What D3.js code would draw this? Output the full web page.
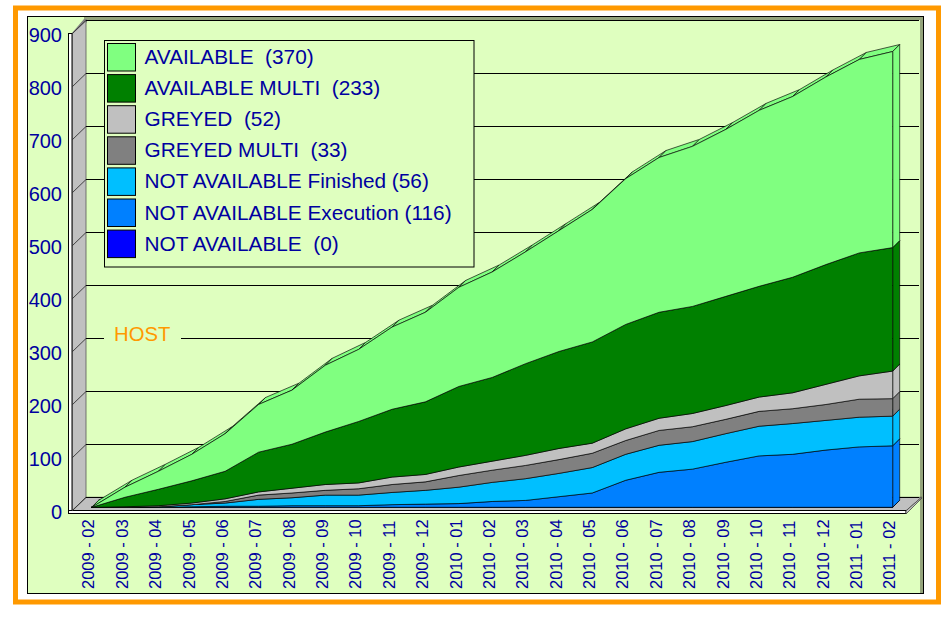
<!DOCTYPE html>
<html><head><meta charset="utf-8">
<script src="https://cdnjs.cloudflare.com/ajax/libs/d3/7.8.5/d3.min.js"></script>
<style>
html,body{margin:0;padding:0;background:#fff}
svg{display:block}
text{font-family:"Liberation Sans",Arial,sans-serif}
</style></head><body>
<svg id="c" width="942" height="617"></svg>
<script>
const months=["2009 - 02","2009 - 03","2009 - 04","2009 - 05","2009 - 06","2009 - 07","2009 - 08","2009 - 09","2009 - 10","2009 - 11","2009 - 12","2010 - 01","2010 - 02","2010 - 03","2010 - 04","2010 - 05","2010 - 06","2010 - 07","2010 - 08","2010 - 09","2010 - 10","2010 - 11","2010 - 12","2011 - 01","2011 - 02"];
const notAvailable=[0,0,0,0,0,0,0,0,0,0,0,0,0,0,0,0,0,0,0,0,0,0,0,0,0];
const notAvailableExecution=[0,0,0,1,2,2,3,3,3,5,6,7,11,13,20,27,51,66,72,85,97,100,108,114,116];
const notAvailableFinished=[0,0,1,4,6,13,15,20,20,23,26,31,36,41,44,48,49,51,52,54,56,58,56,56,56];
const greyedMulti=[0,0,0,0,3,8,9,9,12,15,16,22,23,25,26,27,26,28,28,27,28,28,30,34,33];
const greyed=[0,1,2,3,5,6,9,11,11,14,14,16,17,19,21,19,22,23,25,26,27,30,38,44,52];
const availableMulti=[0,18,31,42,52,75,83,99,116,128,137,152,158,173,183,191,197,200,202,206,209,218,226,232,233];
const available=[0,19,34,50,71,90,102,126,136,155,169,187,199,211,228,250,275,292,302,315,332,341,354,365,370];
const seriesValues=[notAvailable,notAvailableExecution,notAvailableFinished,greyedMulti,greyed,availableMulti,available];
const seriesColors=["#0000ff","#0080ff","#00bfff","#808080","#c0c0c0","#008000","#80ff80"];
const legendLabels=["AVAILABLE  (370)","AVAILABLE MULTI  (233)","GREYED  (52)","GREYED MULTI  (33)","NOT AVAILABLE Finished (56)","NOT AVAILABLE Execution (116)","NOT AVAILABLE  (0)"];
const legendColors=["#80ff80","#008000","#c0c0c0","#808080","#00bfff","#0080ff","#0000ff"];
const yTicks=[0,100,200,300,400,500,600,700,800,900];
const BG="#dfffbf",INK="#0000a0",ORANGE="#ff9900";

const svg=d3.select("#c");
const rect=(x,y,w,h,fill,stroke,sw)=>svg.append("rect").attr("x",x).attr("y",y).attr("width",w).attr("height",h).attr("fill",fill).attr("stroke",stroke||"none").attr("stroke-width",sw||0);
const poly=(g,pts,fill,stroke,sw)=>g.append("polygon").attr("points",pts.map(p=>p.join(",")).join(" ")).attr("fill",fill).attr("stroke",stroke||"none").attr("stroke-width",sw||0);

// frames
rect(15.5,8,923,594,"#fff",ORANGE,5);
rect(27.5,16.5,896,577,BG,"#000",1);

// scales
const yBack=d3.scaleLinear().domain([0,900]).range([497.3,20.3]);
const x=d3.scalePoint().domain(months).range([91.7,892.7]);
const wallD=14,serD=7;
const yFront=v=>yBack(v)+10;

// back-frame bevel
poly(svg,[[920,17],[923,17],[923,593],[920,593]],"#94a47c");
poly(svg,[[84,17],[923,17],[920,20],[84,20]],"#94a47c");
poly(svg,[[72,33],[84,19],[87,19],[87,22],[74,34]],"#808080");

// left wall and floor
const wl=72,wr=86;
poly(svg,[[wl,33.8],[wr,20.3],[wr,497.3],[wl,510.8]],"#c0c0c0","#555",0.8);
poly(svg,[[wl,510.8],[wr,497.3],[921.5,497.3],[906,510.8]],"#c0c0c0","#444",0.8);
rect(68.5,33.5,3.5,480,"#fff","#000",1);
rect(68.5,510.5,837.5,3,"#fff","#000",1);
poly(svg,[[906,510.8],[921.5,497.3],[922,498],[906,514]],"#c0c0c0","#444",0.8);

// gridlines
const grid=svg.append("g");
yTicks.forEach(v=>{
  const y=Math.floor(yBack(v))+0.5;
  grid.append("line").attr("x1",wr).attr("x2",919).attr("y1",y).attr("y2",y).attr("stroke","#000").attr("stroke-width",1);
  grid.append("line").attr("x1",wl).attr("x2",wr).attr("y1",y+13.5).attr("y2",y).attr("stroke","#333").attr("stroke-width",0.9);
});

// HOST
rect(104,322,77,24,BG);
svg.append("text").attr("x",114).attr("y",341).attr("font-size",20.3).attr("fill",ORANGE).text("HOST");

// stacked areas with depth
const table=months.map((m,i)=>{const o={m};seriesValues.forEach((s,k)=>o[k]=s[i]);return o;});
const stacked=d3.stack().keys(seriesValues.map((_,k)=>k))(table);
const plot=svg.append("g").attr("stroke-linejoin","round");
const edge="rgba(0,0,0,.72)";
// depth faces
stacked.forEach((layer,k)=>{
  layer.forEach((d,i)=>{
    if(i===0)return;
    const p=layer[i-1];
    const x0=x(months[i-1]),x1=x(months[i]);
    poly(plot,[[x0,yFront(p[1])],[x1,yFront(d[1])],[x1+serD,yFront(d[1])-serD],[x0+serD,yFront(p[1])-serD]],seriesColors[k],edge,0.9);
  });
  const last=layer[layer.length-1],xe=x(months[months.length-1]);
  poly(plot,[[xe,yFront(last[0])],[xe,yFront(last[1])],[xe+serD,yFront(last[1])-serD],[xe+serD,yFront(last[0])-serD]],seriesColors[k],edge,0.9);
});
// front faces
const area=d3.area().x(d=>x(d.data.m)).y0(d=>yFront(d[0])).y1(d=>yFront(d[1]));
plot.selectAll("path.front").data(stacked).join("path").attr("class","front")
  .attr("d",area).attr("fill",(_,k)=>seriesColors[k]).attr("stroke",edge).attr("stroke-width",0.9);

// legend
rect(104.5,40.5,369.5,226.5,BG,"#000",1);
const legendStep=31.1;
legendLabels.forEach((t,i)=>{
  const top=43.5+i*legendStep;
  rect(107.5,top,28,27.5,legendColors[i],"#000",1);
  svg.append("text").attr("x",144.5).attr("y",top+20.5).attr("font-size",20.8).attr("fill",INK).style("white-space","pre").text(t);
});

// axes
const yAxisScale=d3.scaleLinear().domain([0,900]).range([512,35]);
const yAxis=svg.append("g").attr("transform","translate(62,0)").call(d3.axisLeft(yAxisScale).tickValues(yTicks).tickSize(0).tickPadding(0).tickFormat(d3.format("d")));
yAxis.select(".domain").remove();
yAxis.selectAll("text").attr("font-size",20).attr("fill",INK).style("font-family",'"Liberation Sans",Arial,sans-serif');

const xAxis=svg.append("g").attr("transform","translate(-3.5,0)").call(d3.axisBottom(x).tickSize(0).tickPadding(0));
xAxis.select(".domain").remove();
xAxis.selectAll("text").attr("font-size",16.5).attr("fill",INK).attr("text-anchor","start").attr("dy","0.35em").attr("y",0).attr("x",0)
  .attr("transform","translate(0,589) rotate(-90)").style("font-family",'"Liberation Sans",Arial,sans-serif');
</script>
</body></html>
